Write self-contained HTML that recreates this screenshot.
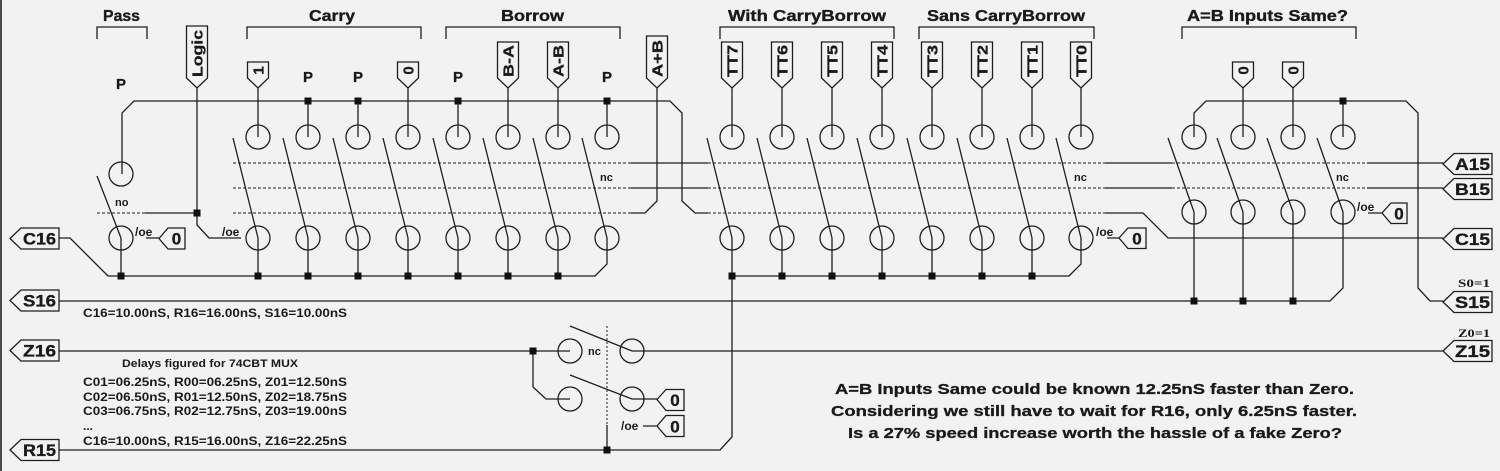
<!DOCTYPE html>
<html>
<head>
<meta charset="utf-8">
<style>
html,body{margin:0;padding:0;background:#f2f2f2;}
svg{display:block;}
text{font-family:"Liberation Sans",Arial,sans-serif;font-weight:bold;fill:#1a1a1a;}
.w{fill:none;stroke:#1e1e1e;stroke-width:1.3;}
.d{fill:none;stroke:#1e1e1e;stroke-width:1;stroke-dasharray:3 2;}
.dt{fill:none;stroke:#1e1e1e;stroke-width:1;stroke-dasharray:2 2;}
.f{fill:#f2f2f2;stroke:#1e1e1e;stroke-width:1.3;}
.c{fill:none;stroke:#1e1e1e;stroke-width:1.3;}
.j{fill:#111;}
.h{font-size:15.5px;stroke:#1a1a1a;stroke-width:0.35px;}
.p{font-size:15px;stroke:#1a1a1a;stroke-width:0.3px;}
.s{font-size:11px;}
.oe{font-size:12px;}
.lb{font-size:17px;stroke:#1a1a1a;stroke-width:0.35px;}
.rot{font-size:15px;stroke:#1a1a1a;stroke-width:0.3px;}
.sm{font-size:12px;}
.rt{font-size:15px;stroke:#1a1a1a;stroke-width:0.3px;}
.ser{font-family:"Liberation Serif",serif;font-size:12px;}
</style>
</head>
<body>
<svg width="1500" height="471" viewBox="0 0 1500 471" xmlns="http://www.w3.org/2000/svg">
<rect width="1500" height="471" fill="#f2f2f2"/>
<rect x="0" y="0" width="2" height="471" fill="#4a4a4a"/>

<!-- Headings -->
<text class="h" x="103" y="21" textLength="37" lengthAdjust="spacingAndGlyphs">Pass</text>
<text class="h" x="309" y="21" textLength="46" lengthAdjust="spacingAndGlyphs">Carry</text>
<text class="h" x="501" y="21" textLength="63" lengthAdjust="spacingAndGlyphs">Borrow</text>
<text class="h" x="728" y="21" textLength="158" lengthAdjust="spacingAndGlyphs">With CarryBorrow</text>
<text class="h" x="927" y="21" textLength="158" lengthAdjust="spacingAndGlyphs">Sans CarryBorrow</text>
<text class="h" x="1187" y="21" textLength="161" lengthAdjust="spacingAndGlyphs">A=B Inputs Same?</text>

<!-- Brackets -->
<path class="w" d="M97,39V27H147V39 M247,39V27H421V39 M446,39V27H620V39 M720,39V27H894V39 M919,39V27H1094V39 M1182,39V27H1356V39"/>

<!-- P labels -->
<text class="p" x="121" y="89" text-anchor="middle">P</text>
<text class="p" x="308" y="82" text-anchor="middle">P</text>
<text class="p" x="358" y="82" text-anchor="middle">P</text>
<text class="p" x="458" y="82" text-anchor="middle">P</text>
<text class="p" x="607" y="82" text-anchor="middle">P</text>

<!-- Dashed control lines -->
<path class="d" d="M97,213H145 M233,163H631 M233,188H631 M233,213H631 M708,163H1105 M708,188H1105 M708,213H1105 M1172,163H1367 M1172,188H1367"/>
<path class="dt" d="M607,326V425"/>

<!-- Wires -->
<path class="w" d="
M122,174V113L134,101H670L682,113V201L695,213H708
M197,88V225L209,238H241
M145,213H197
M97,176L121,238
M121,238V276
M258,88V137 M308,101V137 M358,101V137 M408,88V137 M458,101V137 M508,88V137 M558,88V137 M607,101V137
M233,138L258,238 M283,138L308,238 M333,138L358,238 M383,138L408,238 M433,138L458,238 M483,138L508,238 M533,138L558,238 M582,138L607,238
M258,238V276 M308,238V276 M358,238V276 M408,238V276 M458,238V276 M508,238V276 M558,238V276
M59,238H70L108,276H595L607,264V238
M657,88V201L645,213H631
M631,163H708 M1105,163H1172 M1367,163H1443
M631,188H708 M1105,188H1172 M1367,188H1443
M1105,213H1143L1168,238H1443
M732,88V137 M782,88V137 M832,88V137 M882,88V137 M932,88V137 M982,88V137 M1032,88V137 M1081,88V137
M707,138L732,238 M757,138L782,238 M807,138L832,238 M857,138L882,238 M907,138L932,238 M957,138L982,238 M1007,138L1032,238 M1056,138L1081,238
M732,238V276 M782,238V276 M832,238V276 M882,238V276 M932,238V276 M982,238V276 M1032,238V276
M1081,238V264L1069,276H732
M732,276V437L720,450H59
M1194,137V113L1206,101H1406L1418,113V288L1430,301H1443
M1343,101V137 M1243,88V137 M1293,88V137
M1168,138L1194,212 M1217,138L1243,212 M1267,138L1293,212 M1317,138L1343,212
M1194,212V301 M1243,212V301 M1293,212V301
M1343,212V288L1330,301H59
M59,351H570 M632,351H1443
M533,351V387L546,399H570
M570,326L632,351 M570,375L632,399
M632,399H657
M607,425V450
M643,426H657
M146,238H159 M1107,238H1119 M1368,213H1382
"/>

<!-- Circles -->
<g class="c">
<circle cx="121" cy="174" r="12"/><circle cx="121" cy="238" r="12"/>
<circle cx="258" cy="137" r="12"/><circle cx="308" cy="137" r="12"/><circle cx="358" cy="137" r="12"/><circle cx="408" cy="137" r="12"/>
<circle cx="458" cy="137" r="12"/><circle cx="508" cy="137" r="12"/><circle cx="558" cy="137" r="12"/><circle cx="607" cy="137" r="12"/>
<circle cx="258" cy="238" r="12"/><circle cx="308" cy="238" r="12"/><circle cx="358" cy="238" r="12"/><circle cx="408" cy="238" r="12"/>
<circle cx="458" cy="238" r="12"/><circle cx="508" cy="238" r="12"/><circle cx="558" cy="238" r="12"/><circle cx="607" cy="238" r="12"/>
<circle cx="732" cy="137" r="12"/><circle cx="782" cy="137" r="12"/><circle cx="832" cy="137" r="12"/><circle cx="882" cy="137" r="12"/>
<circle cx="932" cy="137" r="12"/><circle cx="982" cy="137" r="12"/><circle cx="1032" cy="137" r="12"/><circle cx="1081" cy="137" r="12"/>
<circle cx="732" cy="238" r="12"/><circle cx="782" cy="238" r="12"/><circle cx="832" cy="238" r="12"/><circle cx="882" cy="238" r="12"/>
<circle cx="932" cy="238" r="12"/><circle cx="982" cy="238" r="12"/><circle cx="1032" cy="238" r="12"/><circle cx="1081" cy="238" r="12"/>
<circle cx="1194" cy="137" r="12"/><circle cx="1243" cy="137" r="12"/><circle cx="1293" cy="137" r="12"/><circle cx="1343" cy="137" r="12"/>
<circle cx="1194" cy="212" r="12"/><circle cx="1243" cy="212" r="12"/><circle cx="1293" cy="212" r="12"/><circle cx="1343" cy="212" r="12"/>
<circle cx="570" cy="351" r="12"/><circle cx="632" cy="351" r="12"/><circle cx="570" cy="399" r="12"/><circle cx="632" cy="399" r="12"/>
</g>

<!-- Junctions -->
<g class="j">
<rect x="304.5" y="97.5" width="7" height="7"/><rect x="354.5" y="97.5" width="7" height="7"/><rect x="454.5" y="97.5" width="7" height="7"/><rect x="603.5" y="97.5" width="7" height="7"/><rect x="1339.5" y="97.5" width="7" height="7"/>
<rect x="193.5" y="209.5" width="7" height="7"/>
<rect x="117.5" y="272.5" width="7" height="7"/><rect x="254.5" y="272.5" width="7" height="7"/><rect x="304.5" y="272.5" width="7" height="7"/><rect x="354.5" y="272.5" width="7" height="7"/>
<rect x="404.5" y="272.5" width="7" height="7"/><rect x="454.5" y="272.5" width="7" height="7"/><rect x="504.5" y="272.5" width="7" height="7"/><rect x="554.5" y="272.5" width="7" height="7"/>
<rect x="728.5" y="272.5" width="7" height="7"/><rect x="778.5" y="272.5" width="7" height="7"/><rect x="828.5" y="272.5" width="7" height="7"/><rect x="878.5" y="272.5" width="7" height="7"/>
<rect x="928.5" y="272.5" width="7" height="7"/><rect x="978.5" y="272.5" width="7" height="7"/><rect x="1028.5" y="272.5" width="7" height="7"/>
<rect x="1190.5" y="297.5" width="7" height="7"/><rect x="1239.5" y="297.5" width="7" height="7"/><rect x="1289.5" y="297.5" width="7" height="7"/>
<rect x="529.5" y="347.5" width="7" height="7"/><rect x="603.5" y="446.5" width="7" height="7"/>
</g>

<!-- Top flags -->
<g class="f">
<path d="M186.5,26H207.5V78L197,88L186.5,78Z"/>
<path d="M247.5,62H268.5V78L258,88L247.5,78Z"/>
<path d="M397.5,62H418.5V78L408,88L397.5,78Z"/>
<path d="M497.5,42H518.5V78L508,88L497.5,78Z"/>
<path d="M547.5,42H568.5V78L558,88L547.5,78Z"/>
<path d="M646.5,36H667.5V78L657,88L646.5,78Z"/>
<path d="M721.5,42H742.5V78L732,88L721.5,78Z"/>
<path d="M771.5,42H792.5V78L782,88L771.5,78Z"/>
<path d="M821.5,42H842.5V78L832,88L821.5,78Z"/>
<path d="M871.5,42H892.5V78L882,88L871.5,78Z"/>
<path d="M921.5,42H942.5V78L932,88L921.5,78Z"/>
<path d="M971.5,42H992.5V78L982,88L971.5,78Z"/>
<path d="M1021.5,42H1042.5V78L1032,88L1021.5,78Z"/>
<path d="M1070.5,42H1091.5V78L1081,88L1070.5,78Z"/>
<path d="M1232.5,62H1253.5V78L1243,88L1232.5,78Z"/>
<path d="M1282.5,62H1303.5V78L1293,88L1282.5,78Z"/>
</g>
<g class="rot">
<text transform="translate(197,53.5) rotate(-90)" x="-23.5" y="5.5" textLength="47" lengthAdjust="spacingAndGlyphs">Logic</text>
<text transform="translate(258,70.5) rotate(-90)" x="0" y="5.5" text-anchor="middle">1</text>
<text transform="translate(408,70.5) rotate(-90)" x="0" y="5.5" text-anchor="middle">0</text>
<text transform="translate(508,61) rotate(-90)" x="-16" y="5.5" textLength="32" lengthAdjust="spacingAndGlyphs">B-A</text>
<text transform="translate(558,61) rotate(-90)" x="-16" y="5.5" textLength="32" lengthAdjust="spacingAndGlyphs">A-B</text>
<text transform="translate(657,58.5) rotate(-90)" x="-18.5" y="5.5" textLength="37" lengthAdjust="spacingAndGlyphs">A+B</text>
<text transform="translate(732,61) rotate(-90)" x="-16" y="5.5" textLength="32" lengthAdjust="spacingAndGlyphs">TT7</text>
<text transform="translate(782,61) rotate(-90)" x="-16" y="5.5" textLength="32" lengthAdjust="spacingAndGlyphs">TT6</text>
<text transform="translate(832,61) rotate(-90)" x="-16" y="5.5" textLength="32" lengthAdjust="spacingAndGlyphs">TT5</text>
<text transform="translate(882,61) rotate(-90)" x="-16" y="5.5" textLength="32" lengthAdjust="spacingAndGlyphs">TT4</text>
<text transform="translate(932,61) rotate(-90)" x="-16" y="5.5" textLength="32" lengthAdjust="spacingAndGlyphs">TT3</text>
<text transform="translate(982,61) rotate(-90)" x="-16" y="5.5" textLength="32" lengthAdjust="spacingAndGlyphs">TT2</text>
<text transform="translate(1032,61) rotate(-90)" x="-16" y="5.5" textLength="32" lengthAdjust="spacingAndGlyphs">TT1</text>
<text transform="translate(1081,61) rotate(-90)" x="-16" y="5.5" textLength="32" lengthAdjust="spacingAndGlyphs">TT0</text>
<text transform="translate(1243,70.5) rotate(-90)" x="0" y="5.5" text-anchor="middle">0</text>
<text transform="translate(1293,70.5) rotate(-90)" x="0" y="5.5" text-anchor="middle">0</text>
</g>

<!-- Small labels -->
<text class="s" x="115" y="206">no</text>
<text class="s" x="600" y="181">nc</text>
<text class="s" x="1074" y="181">nc</text>
<text class="s" x="1336" y="181">nc</text>
<text class="s" x="588" y="355">nc</text>
<text class="oe" x="135" y="236">/oe</text>
<text class="oe" x="222" y="236">/oe</text>
<text class="oe" x="1096" y="236">/oe</text>
<text class="oe" x="1357" y="211">/oe</text>
<text class="oe" x="621" y="430">/oe</text>

<!-- Small 0 flags -->
<g class="f">
<path d="M159,238.5L168,228H185V249H168Z"/>
<path d="M1119,238L1128,228H1146V248.5H1128Z"/>
<path d="M1382,213L1391,203H1407V223.5H1391Z"/>
<path d="M657,399.5L666,389.5H684V410.5H666Z"/>
<path d="M657,426L666,415.5H684V436.5H666Z"/>
</g>
<g class="lb" text-anchor="middle">
<text x="176.5" y="244.7">0</text>
<text x="1137" y="244.5">0</text>
<text x="1399" y="219.3">0</text>
<text x="675" y="406">0</text>
<text x="675" y="432.3">0</text>
</g>

<!-- Left port flags -->
<g class="f">
<path d="M10,238.5L21,228H59V249H21Z"/>
<path d="M10,300.5L21,290H59V311H21Z"/>
<path d="M10,350.5L21,340H59V361H21Z"/>
<path d="M10,450L21,439.5H59V460.5H21Z"/>
</g>
<g class="lb">
<text x="23" y="244.7" textLength="33" lengthAdjust="spacingAndGlyphs">C16</text>
<text x="23" y="306.7" textLength="33" lengthAdjust="spacingAndGlyphs">S16</text>
<text x="23" y="356.7" textLength="33" lengthAdjust="spacingAndGlyphs">Z16</text>
<text x="23" y="456.2" textLength="33" lengthAdjust="spacingAndGlyphs">R15</text>
</g>

<!-- Right port flags -->
<g class="f">
<path d="M1443,164L1454,153.5H1492V174.5H1454Z"/>
<path d="M1443,189L1454,178.5H1492V199.5H1454Z"/>
<path d="M1443,239L1454,228.5H1492V249.5H1454Z"/>
<path d="M1443,302L1454,291.5H1492V312.5H1454Z"/>
<path d="M1443,351L1454,340.5H1492V361.5H1454Z"/>
</g>
<g class="lb">
<text x="1455" y="170.2" textLength="35" lengthAdjust="spacingAndGlyphs">A15</text>
<text x="1455" y="195.2" textLength="35" lengthAdjust="spacingAndGlyphs">B15</text>
<text x="1455" y="245.2" textLength="35" lengthAdjust="spacingAndGlyphs">C15</text>
<text x="1455" y="308.2" textLength="35" lengthAdjust="spacingAndGlyphs">S15</text>
<text x="1455" y="357.2" textLength="35" lengthAdjust="spacingAndGlyphs">Z15</text>
</g>
<text class="ser" x="1458" y="287" textLength="32" lengthAdjust="spacingAndGlyphs">S0=1</text>
<text class="ser" x="1458" y="337" textLength="32" lengthAdjust="spacingAndGlyphs">Z0=1</text>

<!-- Delay notes -->
<text class="sm" x="83" y="317" textLength="264" lengthAdjust="spacingAndGlyphs">C16=10.00nS, R16=16.00nS, S16=10.00nS</text>
<text class="s" x="122" y="367" textLength="176" lengthAdjust="spacingAndGlyphs">Delays figured for 74CBT MUX</text>
<text class="sm" x="83" y="386" textLength="264" lengthAdjust="spacingAndGlyphs">C01=06.25nS, R00=06.25nS, Z01=12.50nS</text>
<text class="sm" x="83" y="401" textLength="264" lengthAdjust="spacingAndGlyphs">C02=06.50nS, R01=12.50nS, Z02=18.75nS</text>
<text class="sm" x="83" y="415" textLength="264" lengthAdjust="spacingAndGlyphs">C03=06.75nS, R02=12.75nS, Z03=19.00nS</text>
<text class="sm" x="83" y="430">...</text>
<text class="sm" x="83" y="445" textLength="264" lengthAdjust="spacingAndGlyphs">C16=10.00nS, R15=16.00nS, Z16=22.25nS</text>

<!-- Bottom-right commentary -->
<text class="rt" x="835" y="394" textLength="519" lengthAdjust="spacingAndGlyphs">A=B Inputs Same could be known 12.25nS faster than Zero.</text>
<text class="rt" x="831" y="416" textLength="526" lengthAdjust="spacingAndGlyphs">Considering we still have to wait for R16, only 6.25nS faster.</text>
<text class="rt" x="848" y="438" textLength="494" lengthAdjust="spacingAndGlyphs">Is a 27% speed increase worth the hassle of a fake Zero?</text>
</svg>
</body>
</html>
